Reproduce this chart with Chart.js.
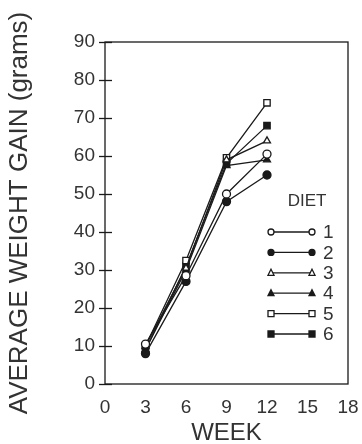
<!DOCTYPE html>
<html>
<head>
<meta charset="utf-8">
<script src="https://cdn.jsdelivr.net/npm/chart.js@4.4.0/dist/chart.umd.min.js"></script>
<style>
  html, body { margin: 0; padding: 0; background: #fff; }
  #wrap { width: 362px; height: 444px; }
</style>
</head>
<body>
<div id="wrap"><canvas id="chart" width="362" height="444"></canvas></div>
<script>
// weeks on the x axis
const weeks = [3, 6, 9, 12];
const xTicks = [0, 3, 6, 9, 12, 15, 18];
const yTicks = [0, 10, 20, 30, 40, 50, 60, 70, 80, 90];

// average weight gain per diet (grams)
const diet1 = [10.5, 28.5, 50, 60.5];
const diet2 = [8, 27, 48, 55];
const diet3 = [10, 30.5, 59, 64];
const diet4 = [9, 30, 57.5, 59];
const diet5 = [10, 32.5, 59.5, 74];
const diet6 = [9, 31, 58, 68];

const dietNames = ['1', '2', '3', '4', '5', '6'];
const dietValues = [diet1, diet2, diet3, diet4, diet5, diet6];
const markerStyles = ['circle', 'circle', 'triangle', 'triangle', 'rect', 'rect'];
const markerFilled = [false, true, false, true, false, true];

const ink = '#1a1a1a';
const textInk = '#333';
const font = 'Liberation Sans, Arial, sans-serif';

const datasets = dietValues.map((vals, i) => ({
    label: dietNames[i],
    data: vals.map((v, j) => ({ x: weeks[j], y: v })),
    borderColor: ink,
    borderWidth: 1.3,
    pointStyle: markerStyles[i],
    pointRadius: markerStyles[i] === 'rect' ? 4.5 : 4,
    pointBackgroundColor: markerFilled[i] ? ink : '#fff',
    pointBorderColor: ink,
    pointBorderWidth: 1.3,
    tension: 0
}));

// box frame, crossing y ticks and the inline legend
const framePlugin = {
    id: 'frame',
    afterDraw(chart) {
        const ctx = chart.ctx;
        const a = chart.chartArea;
        const ys = chart.scales.y;
        ctx.save();
        ctx.strokeStyle = ink;
        ctx.lineWidth = 1.3;
        ctx.strokeRect(a.left, a.top, a.right - a.left, a.bottom - a.top);
        yTicks.forEach(t => {
            const py = Math.round(ys.getPixelForValue(t)) + 0.5;
            ctx.beginPath();
            ctx.moveTo(a.left - 6, py);
            ctx.lineTo(a.left + 7, py);
            ctx.stroke();
        });

        // legend
        const x0 = a.right - 77, x1 = a.right - 36;
        ctx.fillStyle = textInk;
        ctx.font = '17px ' + font;
        ctx.textAlign = 'center';
        ctx.textBaseline = 'middle';
        ctx.fillText('DIET', a.right - 41, a.top + 159);
        ctx.font = '19px ' + font;
        ctx.textAlign = 'left';
        dietNames.forEach((name, i) => {
            const py = a.top + 190 + i * 20.4;
            ctx.beginPath();
            ctx.moveTo(x0, py);
            ctx.lineTo(x1, py);
            ctx.stroke();
            [x0, x1].forEach(px => {
                ctx.beginPath();
                const r = 3;
                if (markerStyles[i] === 'circle') {
                    ctx.arc(px, py, r, 0, Math.PI * 2);
                } else if (markerStyles[i] === 'triangle') {
                    ctx.moveTo(px, py - r - 0.5);
                    ctx.lineTo(px + r, py + r - 0.5);
                    ctx.lineTo(px - r, py + r - 0.5);
                    ctx.closePath();
                } else {
                    ctx.rect(px - r, py - r, 2 * r, 2 * r);
                }
                ctx.fillStyle = markerFilled[i] ? ink : '#fff';
                ctx.fill();
                ctx.stroke();
            });
            ctx.fillStyle = textInk;
            ctx.fillText(name, x1 + 11, py + 1);
        });
        ctx.restore();
    }
};

new Chart(document.getElementById('chart').getContext('2d'), {
    type: 'line',
    data: { datasets: datasets },
    options: {
        responsive: false,
        animation: false,
        layout: { padding: { top: 42, right: 14, left: 0, bottom: 0 } },
        plugins: {
            legend: { display: false },
            tooltip: { enabled: false }
        },
        scales: {
            x: {
                type: 'linear',
                min: 0,
                max: 18,
                afterBuildTicks: s => { s.ticks = xTicks.map(v => ({ value: v })); },
                afterFit: s => { s.height = 60; s.paddingLeft = 0; s.paddingRight = 0; },
                grid: { display: false, drawTicks: false },
                border: { display: false },
                ticks: { color: textInk, font: { family: font, size: 19 }, padding: 12 },
                title: {
                    display: true,
                    text: 'WEEK',
                    color: textInk,
                    font: { family: font, size: 24 },
                    padding: { top: 0, bottom: -4 }
                }
            },
            y: {
                min: 0,
                max: 90,
                afterBuildTicks: s => { s.ticks = yTicks.map(v => ({ value: v })); },
                afterFit: s => { s.width = 105; },
                grid: { display: false, drawTicks: false },
                border: { display: false },
                ticks: { color: textInk, font: { family: font, size: 19 }, padding: 10 },
                title: {
                    display: true,
                    text: 'AVERAGE WEIGHT GAIN (grams)',
                    color: textInk,
                    font: { family: font, size: 26 },
                    padding: { top: 4, bottom: 0 }
                }
            }
        }
    },
    plugins: [framePlugin]
});
</script>
</body>
</html>
